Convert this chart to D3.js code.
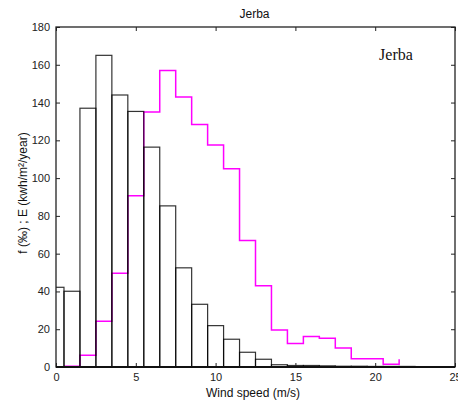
<!DOCTYPE html>
<html>
<head>
<meta charset="utf-8">
<script src="https://cdn.jsdelivr.net/npm/d3@7"></script>
<style>
  html, body { margin: 0; padding: 0; background: #fff; }
  svg { display: block; }
  text { font-family: "Liberation Sans", Arial, sans-serif; }
</style>
</head>
<body>
<svg id="chart" width="458" height="406"></svg>
<script>
// ---- data ----
const chartTitle = "Jerba";
const stationLabel = "Jerba";
const xLabel = "Wind speed (m/s)";
const yLabel = "f (‰) ; E (kwh/m²/year)";

// frequency histogram (bins centred on integer wind speeds)
const binCenters = [0,1,2,3,4,5,6,7,8,9,10,11,12,13,14,15,16,17,18,19,20,21,22];
const frequency  = [42.2,40.1,137,165,144,135.3,116.4,85.3,52.5,33.2,21.9,14.7,7.8,4.1,1.2,0.8,0.8,0.6,0.4,0.4,0.3,0.3,0.3];

// energy (stairs, starting at each edge)
const energyEdges = [0.5,1.5,2.5,3.5,4.5,5.5,6.5,7.5,8.5,9.5,10.5,11.5,12.5,13.5,14.5,15.5,16.5,17.5,18.5,19.5,20.5,21.5];
const energy      = [0.4,6.2,24.2,49.6,90.6,135,157,143,128.4,117.5,105,67,43,19.6,12.5,16.1,15.2,10.1,4.4,4.4,1.4,4.1];

const xTicks = [0,5,10,15,20,25];
const yTicks = [0,20,40,60,80,100,120,140,160,180];

// ---- layout ----
const svg = d3.select("#chart");
const L = 56, R = 455, T = 27, B = 367;
const x = d3.scaleLinear().domain([0,25]).range([L,R]);
const y = d3.scaleLinear().domain([0,180]).range([B,T]);

svg.append("defs").append("clipPath").attr("id","plotclip")
  .append("rect").attr("x",L).attr("y",T).attr("width",R-L).attr("height",B-T);

const plot = svg.append("g").attr("clip-path","url(#plotclip)");

// energy stairs (magenta)
const stairPts = [];
energyEdges.forEach((e,i) => {
  stairPts.push([e, energy[i]]);
  if (i < energyEdges.length - 1) stairPts.push([energyEdges[i+1], energy[i]]);
});
plot.append("path")
  .attr("d", d3.line().x(d=>x(d[0])).y(d=>y(d[1]))(stairPts))
  .attr("fill","none")
  .attr("stroke","#ff00ff")
  .attr("stroke-width",1.5);

// frequency bars (black outline)
plot.selectAll("rect.bar").data(binCenters).enter().append("rect")
  .attr("class","bar")
  .attr("x", d => x(d-0.5))
  .attr("width", d => x(d+0.5)-x(d-0.5))
  .attr("y", (d,i) => y(frequency[i]))
  .attr("height", (d,i) => y(0)-y(frequency[i]))
  .attr("fill","none")
  .attr("stroke","#000")
  .attr("stroke-opacity",0.8)
  .attr("stroke-width",1.2);

// ---- axes ----
const tickLen = 4;
const axG = svg.append("g");
// bottom
axG.append("g").attr("transform",`translate(0,${B})`)
  .call(d3.axisBottom(x).tickValues(xTicks).tickSize(-tickLen).tickPadding(6).tickFormat(d3.format("d")))
  .call(g => g.select(".domain").remove());
// top
axG.append("g").attr("transform",`translate(0,${T})`)
  .call(d3.axisTop(x).tickValues(xTicks).tickSize(-tickLen).tickFormat(""))
  .call(g => g.select(".domain").remove());
// left
axG.append("g").attr("transform",`translate(${L},0)`)
  .call(d3.axisLeft(y).tickValues(yTicks).tickSize(-tickLen).tickPadding(6).tickFormat(d3.format("d")))
  .call(g => g.select(".domain").remove());
// right
axG.append("g").attr("transform",`translate(${R},0)`)
  .call(d3.axisRight(y).tickValues(yTicks).tickSize(-tickLen).tickFormat(""))
  .call(g => g.select(".domain").remove());

axG.selectAll(".tick line").attr("stroke","#222").attr("stroke-width",1);
axG.selectAll(".tick text").attr("fill","#222").style("font-size","11px")
  .style("font-family","'Liberation Sans', Arial, sans-serif");

// frame
svg.append("rect").attr("x",L).attr("y",T).attr("width",R-L).attr("height",B-T)
  .attr("fill","none").attr("stroke","#222").attr("stroke-width",1.3);
svg.append("line").attr("x1",L).attr("x2",R).attr("y1",B).attr("y2",B)
  .attr("stroke","#111").attr("stroke-width",2);

// ---- labels ----
svg.append("text").attr("x",254.5).attr("y",18).attr("text-anchor","middle")
  .style("font-size","12px").attr("fill","#111").text(chartTitle);

svg.append("text").attr("x",396).attr("y",60).attr("text-anchor","middle")
  .style("font-family","'Liberation Serif', 'Times New Roman', serif")
  .style("font-size","16px").attr("fill","#111").text(stationLabel);

svg.append("text").attr("x",253).attr("y",397).attr("text-anchor","middle")
  .style("font-size","12px").attr("fill","#111").text(xLabel);

svg.append("text")
  .attr("transform","translate(27,193) rotate(-90)")
  .attr("text-anchor","middle")
  .style("font-size","12px").attr("fill","#111").text(yLabel);
</script>
</body>
</html>
